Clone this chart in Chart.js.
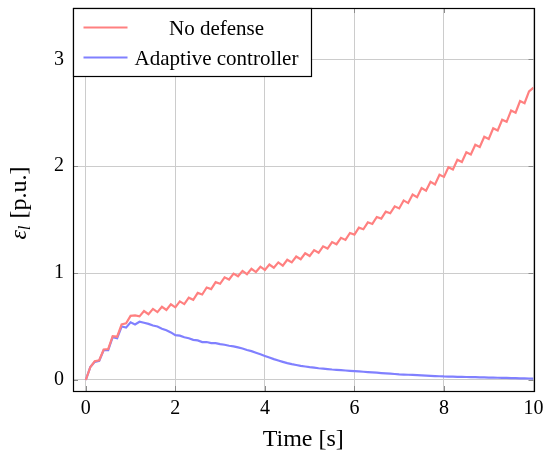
<!DOCTYPE html>
<html>
<head>
<meta charset="utf-8">
<script src="https://cdn.jsdelivr.net/npm/chart.js@4.4.1/dist/chart.umd.min.js"></script>
<style>
  html, body { margin: 0; padding: 0; background: #fff; }
  #wrap { width: 544px; height: 457px; }
</style>
</head>
<body>
<div id="wrap"><canvas id="errChart" width="544" height="457"></canvas></div>
<script>
// sampled every 0.1 s, 0..10 s
const timeS = Array.from({ length: 101 }, (_, i) => i / 10);

const seriesNames = ["No defense", "Adaptive controller"];

const noDefense = [
  0.00, 0.12, 0.175, 0.185, 0.285, 0.29, 0.41, 0.405, 0.52, 0.53,
  0.60, 0.605, 0.595, 0.645, 0.615, 0.665, 0.635, 0.685, 0.655, 0.708,
  0.68, 0.735, 0.71, 0.77, 0.75, 0.815, 0.80, 0.865, 0.85, 0.915,
  0.90, 0.96, 0.94, 0.995, 0.97, 1.02, 0.99, 1.04, 1.01, 1.06,
  1.03, 1.08, 1.05, 1.10, 1.07, 1.125, 1.10, 1.155, 1.13, 1.185,
  1.16, 1.215, 1.19, 1.25, 1.23, 1.29, 1.27, 1.33, 1.31, 1.375,
  1.36, 1.425, 1.41, 1.475, 1.46, 1.525, 1.51, 1.575, 1.56, 1.625,
  1.605, 1.68, 1.655, 1.735, 1.71, 1.795, 1.77, 1.855, 1.83, 1.92,
  1.90, 1.99, 1.97, 2.06, 2.04, 2.13, 2.11, 2.20, 2.18, 2.275,
  2.255, 2.355, 2.335, 2.435, 2.415, 2.52, 2.50, 2.61, 2.59, 2.70,
  2.735
];

const adaptive = [
  0.00, 0.12, 0.17, 0.18, 0.28, 0.28, 0.40, 0.39, 0.50, 0.49,
  0.54, 0.52, 0.545, 0.535, 0.525, 0.51, 0.50, 0.48, 0.465, 0.445,
  0.42, 0.415, 0.40, 0.39, 0.375, 0.37, 0.355, 0.355, 0.345, 0.345,
  0.335, 0.33, 0.32, 0.315, 0.305, 0.295, 0.28, 0.27, 0.255, 0.24,
  0.225, 0.21, 0.195, 0.182, 0.17, 0.158, 0.148, 0.14, 0.132, 0.126,
  0.12, 0.115, 0.11, 0.106, 0.102, 0.098, 0.095, 0.092, 0.089, 0.086,
  0.083, 0.08, 0.077, 0.074, 0.071, 0.068, 0.065, 0.062, 0.059, 0.056,
  0.053, 0.051, 0.049, 0.047, 0.045, 0.043, 0.041, 0.039, 0.037, 0.035,
  0.033, 0.032, 0.031, 0.030, 0.029, 0.028, 0.027, 0.026, 0.025, 0.024,
  0.023, 0.022, 0.021, 0.020, 0.019, 0.018, 0.017, 0.016, 0.015, 0.014,
  0.013
];

const xTicks = [0, 2, 4, 6, 8, 10];
const yTicks = [0, 1, 2, 3];

const serif = '"Liberation Serif", "DejaVu Serif", serif';
const lineColors = ['#ff8080', '#8080ff'];
const gridColor = '#cccccc';

// frame, inner tick marks, legend box and y title (pgfplots look)
const decorations = {
  id: 'decorations',
  afterDraw(chart) {
    const ctx = chart.ctx;
    const a = chart.chartArea;
    const xs = chart.scales.x, ys = chart.scales.y;
    ctx.save();

    // small inner tick marks
    ctx.strokeStyle = '#8c8c8c';
    ctx.lineWidth = 1;
    ctx.beginPath();
    xTicks.forEach(v => {
      const px = Math.round(xs.getPixelForValue(v)) + 0.5;
      ctx.moveTo(px, a.bottom); ctx.lineTo(px, a.bottom - 5);
      ctx.moveTo(px, a.top); ctx.lineTo(px, a.top + 5);
    });
    yTicks.forEach(v => {
      const py = Math.round(ys.getPixelForValue(v)) + 0.5;
      ctx.moveTo(a.left, py); ctx.lineTo(a.left + 5, py);
      ctx.moveTo(a.right, py); ctx.lineTo(a.right - 5, py);
    });
    ctx.stroke();

    // frame
    ctx.strokeStyle = '#000';
    ctx.lineWidth = 1.2;
    ctx.strokeRect(Math.round(a.left) + 0.5, Math.round(a.top) + 0.5,
      Math.round(a.right - a.left), Math.round(a.bottom - a.top));

    // legend
    const lx = Math.round(a.left) + 0.5, ly = Math.round(a.top) + 0.5;
    ctx.fillStyle = '#fff';
    ctx.fillRect(lx, ly, 238, 68);
    ctx.strokeRect(lx, ly, 238, 68);
    ctx.font = '21px ' + serif;
    ctx.textAlign = 'center';
    ctx.textBaseline = 'alphabetic';
    chart.data.datasets.forEach((ds, i) => {
      const rowY = ly + 19 + i * 30;
      ctx.strokeStyle = ds.borderColor;
      ctx.lineWidth = 2.2;
      ctx.beginPath();
      ctx.moveTo(lx + 10, rowY);
      ctx.lineTo(lx + 54, rowY);
      ctx.stroke();
      ctx.fillStyle = '#000';
      ctx.fillText(ds.label, lx + 143, rowY + 7);
    });

    // y axis title: eps_l [p.u.]
    ctx.translate(26, 203);
    ctx.rotate(-Math.PI / 2);
    ctx.textAlign = 'left';
    ctx.fillStyle = '#000';
    const mainFont = 'italic 24px ' + serif;
    const subFont = 'italic 17px ' + serif;
    const restFont = '24px ' + serif;
    ctx.font = mainFont; const w1 = ctx.measureText('\u03b5').width;
    ctx.font = subFont; const w2 = ctx.measureText('l').width;
    ctx.font = restFont; const w3 = ctx.measureText(' [p.u.]').width;
    let cx = -(w1 + w2 + 1 + w3) / 2;
    ctx.font = mainFont; ctx.fillText('\u03b5', cx, 0); cx += w1;
    ctx.font = subFont; ctx.fillText('l', cx, 4); cx += w2 + 1;
    ctx.font = restFont; ctx.fillText(' [p.u.]', cx, 0);

    ctx.restore();
  }
};

new Chart(document.getElementById('errChart'), {
  type: 'line',
  data: {
    datasets: [
      {
        label: seriesNames[0],
        data: timeS.map((t, i) => ({ x: t, y: noDefense[i] })),
        borderColor: lineColors[0],
        borderWidth: 2.2,
        pointRadius: 0,
        tension: 0,
        fill: false
      },
      {
        label: seriesNames[1],
        data: timeS.map((t, i) => ({ x: t, y: adaptive[i] })),
        borderColor: lineColors[1],
        borderWidth: 2.2,
        pointRadius: 0,
        tension: 0,
        fill: false
      }
    ]
  },
  options: {
    responsive: false,
    animation: false,
    devicePixelRatio: 1,
    layout: { padding: { top: 8, right: 10.5, left: 0, bottom: 0 } },
    scales: {
      x: {
        type: 'linear',
        min: -0.286,
        max: 10,
        afterBuildTicks: ax => { ax.ticks = xTicks.map(v => ({ value: v })); },
        afterFit: ax => {
          ax.height = 66;
          ax.paddingLeft = 0;
          ax.paddingRight = 0;
        },
        grid: { color: gridColor, drawTicks: false },
        border: { display: false },
        ticks: {
          color: '#000',
          font: { family: serif, size: 20 },
          padding: 6,
          maxRotation: 0
        },
        title: {
          display: true,
          text: 'Time [s]',
          color: '#000',
          font: { family: serif, size: 24 },
          padding: { top: 0, bottom: 3 }
        }
      },
      y: {
        min: -0.103,
        max: 3.48,
        afterBuildTicks: ax => { ax.ticks = yTicks.map(v => ({ value: v })); },
        afterFit: ax => {
          ax.width = 73;
          ax.paddingTop = 0;
          ax.paddingBottom = 0;
        },
        grid: { color: gridColor, drawTicks: false },
        border: { display: false },
        ticks: {
          color: '#000',
          font: { family: serif, size: 20 },
          padding: 9
        }
      }
    },
    plugins: {
      legend: { display: false },
      tooltip: { enabled: false }
    }
  },
  plugins: [decorations]
});
</script>
</body>
</html>
